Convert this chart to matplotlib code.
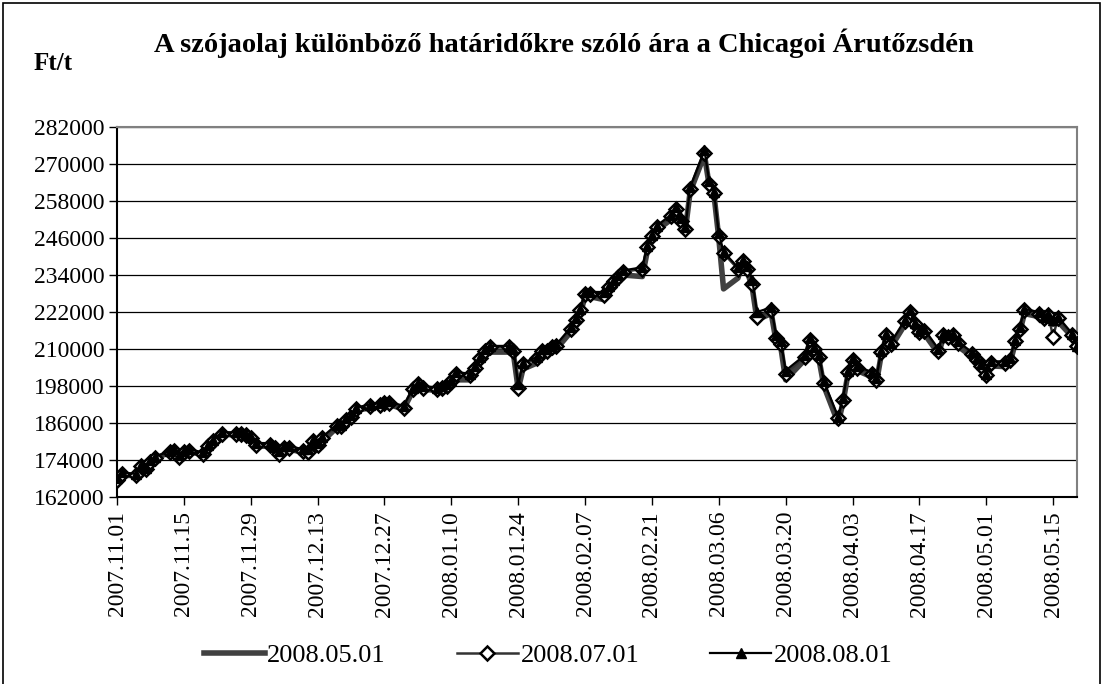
import pandas as pd
import matplotlib
matplotlib.use("Agg")
import matplotlib.pyplot as plt
import matplotlib.dates as mdates
from matplotlib.patches import Rectangle

plt.rcParams['font.family'] = ['Liberation Serif', 'DejaVu Serif']

# trading days
dates = [
    "2007-11-01", "2007-11-02", "2007-11-05", "2007-11-06", "2007-11-07", "2007-11-08", "2007-11-09",
    "2007-11-12", "2007-11-13", "2007-11-14", "2007-11-15", "2007-11-16", "2007-11-19", "2007-11-20",
    "2007-11-21", "2007-11-23", "2007-11-26", "2007-11-27", "2007-11-28", "2007-11-29", "2007-11-30",
    "2007-12-03", "2007-12-04", "2007-12-05", "2007-12-06", "2007-12-07", "2007-12-10", "2007-12-11",
    "2007-12-12", "2007-12-13", "2007-12-14", "2007-12-17", "2007-12-18", "2007-12-19", "2007-12-20",
    "2007-12-21", "2007-12-24", "2007-12-26", "2007-12-27", "2007-12-28", "2007-12-31",
    "2008-01-02", "2008-01-03", "2008-01-04", "2008-01-07", "2008-01-08", "2008-01-09", "2008-01-10",
    "2008-01-11", "2008-01-14", "2008-01-15", "2008-01-16", "2008-01-17", "2008-01-18", "2008-01-22",
    "2008-01-23", "2008-01-24", "2008-01-25", "2008-01-28", "2008-01-29", "2008-01-30", "2008-01-31",
    "2008-02-01", "2008-02-04", "2008-02-05", "2008-02-06", "2008-02-07", "2008-02-08", "2008-02-11",
    "2008-02-12", "2008-02-13", "2008-02-14", "2008-02-15", "2008-02-19", "2008-02-20", "2008-02-21",
    "2008-02-22", "2008-02-25", "2008-02-26", "2008-02-27", "2008-02-28", "2008-02-29",
    "2008-03-03", "2008-03-04", "2008-03-05", "2008-03-06", "2008-03-07", "2008-03-10", "2008-03-11",
    "2008-03-12", "2008-03-13", "2008-03-14", "2008-03-17", "2008-03-18", "2008-03-19", "2008-03-20",
    "2008-03-24", "2008-03-25", "2008-03-26", "2008-03-27", "2008-03-28", "2008-03-31",
    "2008-04-01", "2008-04-02", "2008-04-03", "2008-04-04", "2008-04-07", "2008-04-08", "2008-04-09",
    "2008-04-10", "2008-04-11", "2008-04-14", "2008-04-15", "2008-04-16", "2008-04-17", "2008-04-18",
    "2008-04-21", "2008-04-22", "2008-04-23", "2008-04-24", "2008-04-25", "2008-04-28", "2008-04-29",
    "2008-04-30",
    "2008-05-01", "2008-05-02", "2008-05-05", "2008-05-06", "2008-05-07", "2008-05-08", "2008-05-09",
    "2008-05-12", "2008-05-13", "2008-05-14", "2008-05-15", "2008-05-16", "2008-05-19", "2008-05-20",
]

# 2008.05.01 contract (Ft/t)
may_2008 = [
    167500, 169000, 169000, 171500, 171000, 173000, 174500, 176500, 176500, 175000, 176000, 177000,
    175500, 178000, 180000, 182500, 182000, 182000, 181500, 180500, 178500,
    178500, 177500, 176500, 177500, 177500, 176500, 176000, 178500, 178500, 180000, 184500, 184500,
    186000, 188000, 190000, 191000, 191500, 192000, 192000, 190500,
    196500, 198000, 197000, 196500, 197000, 197000, 198500, 200000, 200000, 202000, 205500, 208500,
    209000, 209000, 208500, 197000, 203500, 205500, 208500, 208500, 209500,
    210000, 215500, 218500, 221500, 227000, 227000, 226000, 229000, 231000, 232500, 234000, 233500,
    241500, 245500, 248500, 252000, 254500, 250500, 248500, 261000,
    273000, 263000, 260000, 246000, 229500, 233000, 237500, 235000, 230000, 219500, 221500, 212500,
    210500, 200000, 206500, 212000, 209000, 206500, 198000, 186000,
    192500, 201500, 205500, 203000, 201000, 199000, 208000, 213500, 210500, 218000, 221000, 217000,
    214500, 215000, 208500, 213500, 213000, 213500, 211000, 207500, 205500, 203500,
    200500, 204500, 204300, 205500, 211500, 215500, 221500, 220500, 219000, 220000, 218000, 219000,
    214000, 210500,
]

# 2008.07.01 contract
jul_2008 = [
    167500, 169500, 169000, 172000, 171000, 173500, 174500, 176500, 177000, 175000, 176500, 177000,
    176000, 178500, 180000, 182500, 182500, 182500, 182000, 181000, 179000,
    179000, 178000, 176000, 178000, 178000, 177000, 176500, 180000, 179000, 181000, 185000, 185000,
    187000, 188000, 190500, 191500, 192000, 192500, 192500, 191000,
    197000, 198500, 197500, 197000, 197500, 198000, 199500, 202000, 201500, 204000, 207000, 209500,
    210500, 210500, 209500, 197500, 205000, 207000, 209500, 209500, 210500,
    211000, 216500, 219500, 222500, 228000, 228000, 227500, 230000, 232000, 233500, 235000, 236000,
    243000, 246500, 249500, 253000, 255500, 251500, 249000, 262000,
    273500, 263500, 260500, 246500, 241000, 236000, 238500, 236000, 231000, 220500, 222500, 213500,
    211500, 202000, 207500, 213000, 210000, 207500, 199000, 187500,
    193500, 202500, 206500, 204000, 202000, 200000, 209000, 214500, 211500, 219000, 222000, 218000,
    215500, 216000, 209500, 214500, 214000, 214500, 212000, 208500, 206500, 204500,
    201500, 205500, 205500, 206500, 212500, 216500, 222500, 221500, 220000, 221000, 214000, 220000,
    214500, 211000,
]

# 2008.08.01 contract
aug_2008 = [
    168000, 170000, 169500, 172500, 171500, 174000, 175000, 177000, 177500, 175500, 177000, 177500,
    176500, 179000, 180500, 183000, 183000, 183000, 182500, 181500, 179500,
    179500, 178500, 177000, 178500, 178500, 177500, 177500, 180500, 179500, 181500, 185500, 185500,
    187500, 188500, 191000, 192000, 192500, 193000, 193000, 191500,
    197500, 199000, 198000, 197500, 198000, 198500, 200000, 202500, 202000, 204500, 207500, 210000,
    211000, 211000, 210000, 198500, 205500, 207500, 210000, 210000, 211000,
    211500, 217000, 220000, 223000, 228500, 228500, 228500, 230500, 232500, 234000, 235500, 236500,
    243500, 247000, 250000, 253500, 256000, 252500, 249500, 262500,
    274500, 264500, 261000, 247500, 241500, 236500, 239000, 237000, 232500, 222000, 223500, 214500,
    212500, 203000, 208000, 213500, 210500, 208000, 199500, 188000,
    194000, 203000, 207000, 204500, 202500, 200500, 209500, 215000, 212000, 219500, 222500, 218500,
    216000, 216500, 210000, 215000, 214500, 215000, 212500, 209000, 207000, 205000,
    202000, 206000, 206000, 207000, 213000, 217000, 223000, 222000, 220500, 221500, 219500, 220500,
    215000, 211000,
]

series_labels = ["2008.05.01", "2008.07.01", "2008.08.01"]

x = pd.to_datetime(dates)

fig = plt.figure(figsize=(11.03, 6.84), dpi=100)
ax = fig.add_axes([0.1061, 0.2734, 0.8703, 0.5409])

ax.plot(x, may_2008, color='#404040', lw=4, label=series_labels[0], zorder=3)
ax.plot(x, jul_2008, color='#333333', lw=1.8, marker='D', ms=7.5, mfc='white',
        mec='black', mew=1.8, label=series_labels[1], zorder=4)
ax.plot(x, aug_2008, color='black', lw=1.6, marker='^', ms=7.5, mfc='black',
        mec='black', label=series_labels[2], zorder=5)

ax.set_ylim(162000, 282000)
ax.set_yticks(range(162000, 282001, 12000))
ax.yaxis.grid(True, color='black', lw=0.9)
ax.set_axisbelow(True)

ax.set_xlim(pd.Timestamp("2007-11-01"), pd.Timestamp("2008-05-20"))
ticks = pd.date_range("2007-11-01", "2008-05-20", freq="14D")
ax.set_xticks(ticks)
ax.xaxis.set_major_formatter(mdates.DateFormatter('%Y.%m.%d'))
for lab in ax.get_xticklabels():
    lab.set_rotation(90)

ax.tick_params(axis='both', direction='out', length=6, width=1, labelsize=17, color='black')
ax.tick_params(axis='x', pad=4)
ax.tick_params(axis='y', pad=3)

for side in ['left', 'bottom']:
    ax.spines[side].set_color('black')
    ax.spines[side].set_linewidth(1.5)
for side in ['top', 'right']:
    ax.spines[side].set_color('#808080')
    ax.spines[side].set_linewidth(1.5)

fig.text(0.511, 0.937, "A szójaolaj különböző határidőkre szóló ára a Chicagoi Árutőzsdén",
         ha='center', va='center', fontsize=20.5, fontweight='bold')
fig.text(0.030, 0.907, "Ft/t", ha='left', va='center', fontsize=18, fontweight='bold')

fig.legend(loc='center', bbox_to_anchor=(0.497, 0.042), ncol=3, frameon=False,
           fontsize=19, handlelength=2.3, handletextpad=0.1, columnspacing=2.7)

# outer chart frame
fig.patches.append(Rectangle((0.003, -0.01), 0.994, 1.005, transform=fig.transFigure,
                             fill=False, edgecolor='black', lw=1.2))

fig.savefig("out.png", dpi=100)
